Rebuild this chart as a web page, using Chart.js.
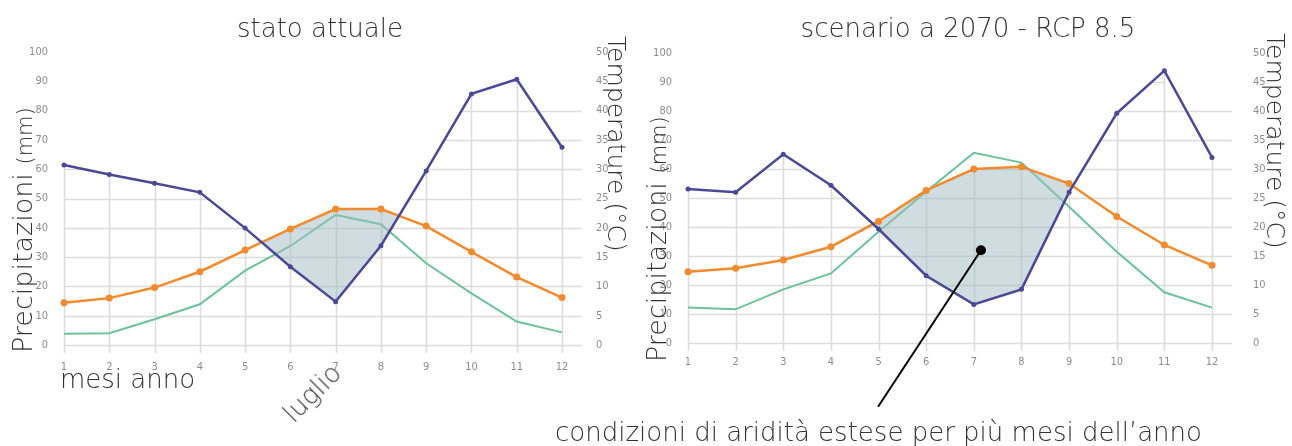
<!DOCTYPE html>
<html>
<head>
<meta charset="utf-8">
<script src="https://cdn.jsdelivr.net/npm/chart.js@4"></script>
<style>
  body { margin: 0; background: #fff; }
  #wrap { position: relative; width: 1292px; height: 446px; overflow: hidden; font-family: "DejaVu Sans", Lato, sans-serif; font-weight: 200; color: #333; }
  canvas { position: absolute; top: 0; }
  .txt { position: absolute; white-space: nowrap; line-height: 1; }
  .title { font-size: 26px; top: 15px; transform: translateX(-50%); }
  .ylab { font-size: 27px; transform-origin: left top; }
  .ylab small { font-size: 21px; }
  .temp { font-size: 25px; }
  .note { font-size: 26px; }
</style>
</head>
<body>
<div id="wrap">
  <canvas id="chartNow" width="640" height="446" style="left:0"></canvas>
  <canvas id="chart2070" width="652" height="446" style="left:640px"></canvas>

  <div class="txt title" style="left:320px">stato attuale</div>
  <div class="txt title" style="left:968px">scenario a 2070 - RCP 8.5</div>

  <div class="txt ylab" style="left:9px; top:353px; transform: rotate(-90deg)">Precipitazioni <small>(mm)</small></div>
  <div class="txt ylab" style="left:643px; top:362px; transform: rotate(-90deg)">Precipitazioni <small>(mm)</small></div>
  <div class="txt ylab temp" style="left:629px; top:36px; transform: rotate(90deg)">Temperature (°C)</div>
  <div class="txt ylab temp" style="left:1288px; top:33px; transform: rotate(90deg)">Temperature (°C)</div>

  <div class="txt note" style="left:60px; top:366px">mesi anno</div>
  <div class="txt note" style="left:312px; top:393px; transform: translate(-50%, -50%) rotate(-45deg)">luglio</div>
  <div class="txt note" style="left:555px; top:419px">condizioni di aridità estese per più mesi dell’anno</div>
</div>

<script>
// months on the x axis
const months = ["1", "2", "3", "4", "5", "6", "7", "8", "9", "10", "11", "12"];

// stato attuale
const rainNow  = [61.4, 58.2, 55.2, 52.1, 39.9, 26.7, 14.8, 33.9, 59.4, 85.7, 90.7, 67.5];
const tempNow  = [7.2, 8.0, 9.8, 12.5, 16.2, 19.8, 23.2, 23.2, 20.3, 15.9, 11.6, 8.1];
const greenNow = [3.8, 4.0, 8.8, 13.9, 25.4, 33.8, 44.4, 41.2, 27.9, 17.6, 8.0, 4.3];

// scenario a 2070 - RCP 8.5
const rain2070  = [53.1, 52.0, 65.1, 54.4, 39.3, 23.2, 13.3, 18.5, 52.0, 79.2, 93.9, 64.0];
const temp2070  = [12.3, 12.9, 14.3, 16.6, 21.0, 26.3, 30.0, 30.4, 27.5, 21.8, 16.9, 13.4];
const green2070 = [12.2, 11.6, 18.5, 24.0, 38.4, 52.2, 65.6, 62.2, 47.0, 31.5, 17.5, 12.2];

const PURPLE = "#4b4898";
const ORANGE = "#f28a2e";
const GREEN = "#6cc29a";
const GRID = "#dcdcdc";
const TICK_FONT = { family: "'Liberation Sans Narrow', 'DejaVu Sans Condensed', Arial, sans-serif", size: 11 };

// top profile of the grid: envelope of rain / temperature up to the highest point, then flat
function gridProfile(chart, opts) {
  const { chartArea, scales } = chart;
  const x = scales.x, y = scales.y, y1 = scales.y1;
  const rain = chart.data.datasets[0].data;
  const temp = chart.data.datasets[1].data;
  const px = rain.map((v, i) => x.getPixelForValue(i));
  const pr = rain.map(v => y.getPixelForValue(v));
  const pt = temp.map(v => y1.getPixelForValue(v));
  const tops = pr.map((v, i) => Math.min(v, pt[i]));
  let peak = 0;
  tops.forEach((v, i) => { if (v < tops[peak]) peak = i; });
  const prof = [];
  for (let i = 0; i <= peak; i++) {
    prof.push([px[i], tops[i]]);
    if (i < peak) {
      const d0 = pr[i] - pt[i], d1 = pr[i + 1] - pt[i + 1];
      if (d0 * d1 < 0) {
        const t = d0 / (d0 - d1);
        prof.push([px[i] + t * (px[i + 1] - px[i]), pr[i] + t * (pr[i + 1] - pr[i])]);
      }
    }
  }
  const cap = Math.max(tops[peak], y.getPixelForValue(opts.capRight));
  prof.push([px[peak], cap], [chartArea.right + opts.extend, cap]);
  return { px, tops, prof };
}

const envelopeGrid = {
  id: "envelopeGrid",
  beforeDatasetsDraw(chart, args, opts) {
    const { ctx, chartArea, scales } = chart;
    const y = scales.y;
    const bottom = y.getPixelForValue(0);
    const left = chartArea.left, right = chartArea.right + opts.extend;
    const { px, tops, prof } = gridProfile(chart, opts);

    ctx.save();
    ctx.strokeStyle = GRID;
    ctx.lineWidth = 1.6;

    // horizontal lines
    ctx.beginPath();
    for (let v = 10; v <= 100; v += 10) {
      const py = Math.round(y.getPixelForValue(v)) + 0.5;
      ctx.moveTo(left, py);
      ctx.lineTo(right, py);
    }
    ctx.stroke();

    // white out everything above the profile
    ctx.beginPath();
    ctx.rect(left - 2, chartArea.top - 12, right - left + 4, bottom - chartArea.top + 12);
    ctx.moveTo(left - 2, bottom);
    prof.forEach(p => ctx.lineTo(p[0], p[1]));
    ctx.lineTo(right + 2, prof[prof.length - 1][1]);
    ctx.lineTo(right + 2, bottom);
    ctx.closePath();
    ctx.fillStyle = "#fff";
    ctx.fill("evenodd");

    // baseline and vertical lines, each up to the envelope at that month
    ctx.beginPath();
    ctx.moveTo(left, Math.round(bottom) + 0.5);
    ctx.lineTo(right, Math.round(bottom) + 0.5);
    px.forEach((xx, i) => {
      const vx = Math.round(xx) + 0.5;
      ctx.moveTo(vx, bottom + opts.tick);
      ctx.lineTo(vx, tops[i]);
    });
    ctx.stroke();
    ctx.restore();
  }
};

// pointer line with a dot, from the caption into the dry area
const pointer = {
  id: "pointer",
  afterDraw(chart, args, opts) {
    if (!opts.show) return;
    const { ctx, scales } = chart;
    const x0 = scales.x.getPixelForValue(opts.from[0]), y0 = scales.y.getPixelForValue(opts.from[1]);
    const x1 = scales.x.getPixelForValue(opts.to[0]), y1 = scales.y.getPixelForValue(opts.to[1]);
    ctx.save();
    ctx.strokeStyle = "#000";
    ctx.lineWidth = 2;
    ctx.beginPath();
    ctx.moveTo(x0, y0);
    ctx.lineTo(x1, y1);
    ctx.stroke();
    ctx.beginPath();
    ctx.arc(x1, y1, 5, 0, Math.PI * 2);
    ctx.fillStyle = "#000";
    ctx.fill();
    ctx.restore();
  }
};

function makeChart(id, rain, temp, green, geo) {
  const ctx = document.getElementById(id).getContext("2d");
  return new Chart(ctx, {
    type: "line",
    data: {
      labels: months,
      datasets: [
        {
          label: "Precipitazioni (mm)",
          data: rain,
          yAxisID: "y",
          borderColor: PURPLE,
          backgroundColor: PURPLE,
          borderWidth: 2.5,
          pointRadius: 2.5,
          pointBorderWidth: 0,
          fill: false
        },
        {
          label: "Temperature (°C)",
          data: temp,
          yAxisID: "y1",
          borderColor: ORANGE,
          backgroundColor: ORANGE,
          borderWidth: 2.5,
          pointRadius: 3.5,
          pointBorderWidth: 0,
          // dry period: temperature line above the rain line
          fill: { target: 0, above: "rgba(160,188,193,0.5)", below: "rgba(0,0,0,0)" }
        },
        {
          label: "verde",
          data: green,
          yAxisID: "y",
          borderColor: GREEN,
          borderWidth: 2,
          pointRadius: 0,
          fill: false
        }
      ]
    },
    options: {
      responsive: false,
      animation: false,
      devicePixelRatio: 1,
      layout: { padding: { top: geo.top, left: 0, right: 0, bottom: 0 } },
      plugins: {
        legend: { display: false },
        tooltip: { enabled: false },
        filler: { drawTime: "beforeDatasetDraw" },
        envelopeGrid: { extend: 20, tick: 8, capRight: 85 },
        pointer: geo.pointer || { show: false }
      },
      scales: {
        x: {
          grid: { display: false },
          border: { display: false },
          ticks: { font: TICK_FONT, color: "#8c8c8c", padding: geo.xPad, maxRotation: 0 },
          afterFit: s => { s.height = geo.xHeight; }
        },
        y: {
          position: "left",
          min: 0, max: 100,
          grid: { display: false },
          border: { display: false },
          ticks: { stepSize: 10, font: TICK_FONT, color: "#8c8c8c", padding: 8 },
          afterFit: s => { s.width = geo.left; }
        },
        y1: {
          position: "right",
          min: 0, max: 50,
          grid: { display: false },
          border: { display: false },
          ticks: { stepSize: 5, font: TICK_FONT, color: "#8c8c8c", padding: geo.rightPad },
          afterFit: s => { s.width = geo.right; }
        }
      }
    },
    plugins: [envelopeGrid, pointer]
  });
}

makeChart("chartNow", rainNow, tempNow, greenNow,
  { top: 52, left: 64, right: 78, xHeight: 101, rightPad: 26, xPad: 8 });

makeChart("chart2070", rain2070, temp2070, green2070,
  { top: 53, left: 48, right: 80, xHeight: 103, rightPad: 33, xPad: 5,
    pointer: { show: true, from: [3.99, -22], to: [6.15, 32] } });
</script>
</body>
</html>
